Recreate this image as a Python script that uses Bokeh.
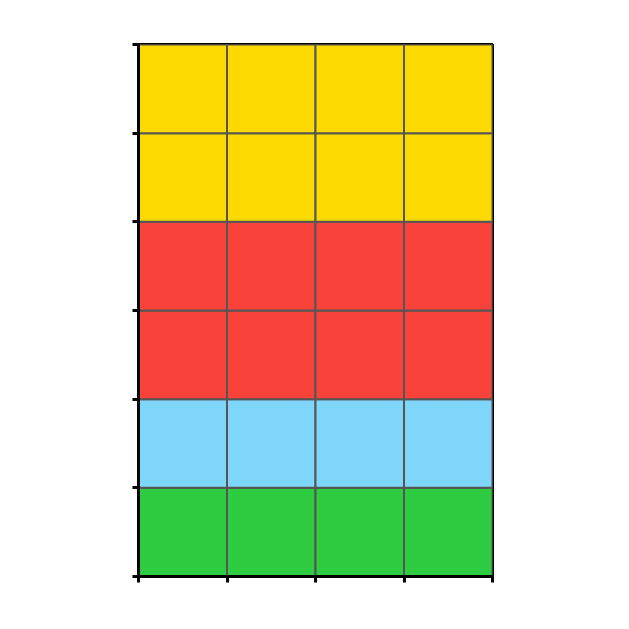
from bokeh.plotting import figure
from bokeh.models import ColumnDataSource, FixedTicker, Range1d
from bokeh.embed import file_html
from bokeh.resources import INLINE

# Waffle data: categories (bottom to top), counts of cells, colors
categories = ["Green", "Blue", "Red", "Yellow"]
counts = [4, 4, 8, 8]
colors = ["#2ECC40", "#7FD6FB", "#F9423A", "#FCD900"]
n_cols = 4
n_rows = 6

xs, ys, cs, cats = [], [], [], []
i = 0
for cat, cnt, col in zip(categories, counts, colors):
    for _ in range(cnt):
        xs.append(i % n_cols + 0.5)
        ys.append(i // n_cols + 0.5)
        cs.append(col)
        cats.append(cat)
        i += 1

src = ColumnDataSource(dict(x=xs, y=ys, color=cs, cat=cats))

p = figure(frame_width=354, frame_height=532, output_backend="svg", toolbar_location=None,
           x_range=Range1d(0, n_cols), y_range=Range1d(0, n_rows),
           min_border_left=138, min_border_right=137, min_border_top=44, min_border_bottom=53)
p.rect(x="x", y="y", width=1, height=1, fill_color="color", line_color="#555555",
       line_width=2, source=src)

x_ticks = list(range(n_cols + 1))
y_ticks = list(range(n_rows + 1))
p.xaxis.ticker = FixedTicker(ticks=x_ticks)
p.yaxis.ticker = FixedTicker(ticks=y_ticks)
p.xaxis.major_label_overrides = {t: "" for t in x_ticks}
p.yaxis.major_label_overrides = {t: "" for t in y_ticks}
for ax in (p.xaxis[0], p.yaxis[0]):
    ax.axis_line_color = "black"
    ax.axis_line_width = 3
    ax.major_tick_line_color = "black"
    ax.major_tick_line_width = 3
    ax.major_tick_out = 6
    ax.major_tick_in = 0
    ax.minor_tick_line_color = None
p.xgrid.grid_line_color = None
p.ygrid.grid_line_color = None
p.outline_line_color = "black"
p.outline_line_width = 3
p.outline_line_alpha = 1
p.background_fill_color = "white"
p.border_fill_color = "white"

open("out.html", "w").write(file_html(p, INLINE))
